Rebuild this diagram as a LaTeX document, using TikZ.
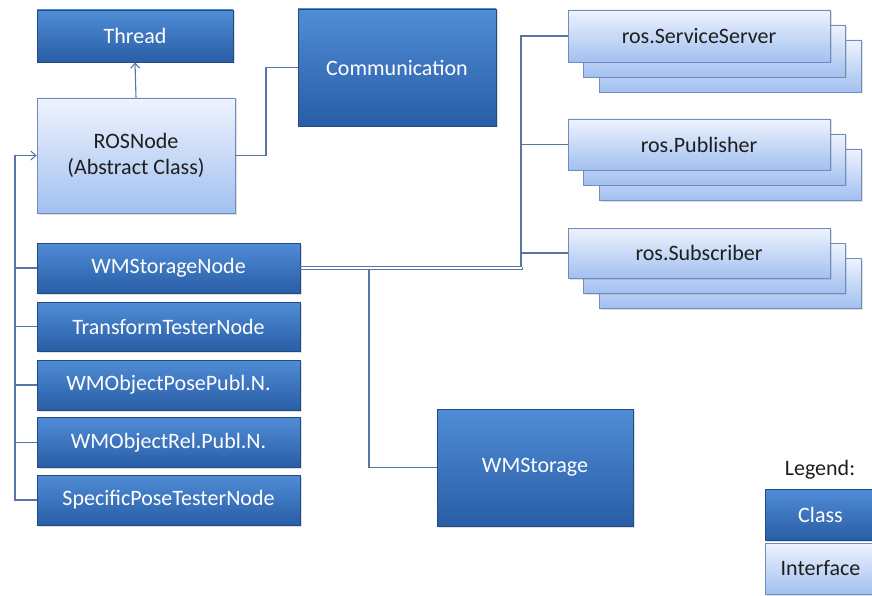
\documentclass[tikz,border=0pt]{standalone}
\usepackage{fontspec}
\setmainfont{Carlito}
\usetikzlibrary{arrows.meta,shadows}
\definecolor{clsTop}{RGB}{80,140,214}
\definecolor{clsBot}{RGB}{40,94,166}
\definecolor{clsLine}{RGB}{36,74,132}
\definecolor{ifTop}{RGB}{238,243,253}
\definecolor{ifBot}{RGB}{162,192,240}
\definecolor{ifLine}{RGB}{112,140,188}
\definecolor{connCol}{RGB}{88,118,162}
\definecolor{txtDark}{RGB}{30,30,30}
\tikzset{
  base/.style={rectangle, inner sep=2pt, align=center, font=\fontsize{22}{26}\selectfont,
    drop shadow={opacity=0.25, shadow xshift=1.5pt, shadow yshift=-1.5pt}},
  clsbox/.style={base, draw=clsLine, line width=0.8pt, top color=clsTop, bottom color=clsBot, text=white},
  ifbox/.style={base, draw=ifLine, line width=0.8pt, top color=ifTop, bottom color=ifBot, text=txtDark},
  conn/.style={draw=connCol, line width=1.1pt},
  arr/.style={conn, -{Straight Barb[length=5pt,width=9pt]}},
}
\begin{document}
\begin{tikzpicture}[x=1pt,y=-1pt]
\useasboundingbox (0,0) rectangle (872,596);
\fill[white] (0,0) rectangle (872,596);

% left column
\node[clsbox, minimum width=196pt, minimum height=52pt] (thread) at (135,36) {Thread};
\node[ifbox, minimum width=198pt, minimum height=115pt] (rosnode) at (136,155.5) {ROSNode\\(Abstract Class)};
\node[clsbox, minimum width=198pt, minimum height=117pt] (comm) at (397,67.5) {Communication};

\node[clsbox, minimum width=263pt, minimum height=50pt] (wmsn) at (168.5,268) {WMStorageNode};
\node[clsbox, minimum width=263pt, minimum height=49pt] (ttn) at (168.5,326.5) {TransformTesterNode};
\node[clsbox, minimum width=263pt, minimum height=50pt] (wmopp) at (168.5,385) {WMObjectPosePubl.N.};
\node[clsbox, minimum width=263pt, minimum height=50pt] (wmorp) at (168.5,442.5) {WMObjectRel.Publ.N.};
\node[clsbox, minimum width=263pt, minimum height=50pt] (sptn) at (168.5,500) {SpecificPoseTesterNode};

\node[clsbox, minimum width=196pt, minimum height=117pt] (wmstorage) at (535,467.5) {WMStorage};

% stacked interfaces
\node[ifbox, minimum width=262pt, minimum height=52pt] (srv3) at (730,66) {};
\node[ifbox, minimum width=262pt, minimum height=52pt] (srv2) at (714.5,51) {};
\node[ifbox, minimum width=262pt, minimum height=52pt] (srv) at (699,36) {ros.ServiceServer};

\node[ifbox, minimum width=262pt, minimum height=51pt] (pub3) at (730,174.5) {};
\node[ifbox, minimum width=262pt, minimum height=51pt] (pub2) at (714.5,159.5) {};
\node[ifbox, minimum width=262pt, minimum height=51pt] (pub) at (699,144.5) {ros.Publisher};

\node[ifbox, minimum width=262pt, minimum height=50pt] (sub3) at (730,283) {};
\node[ifbox, minimum width=262pt, minimum height=50pt] (sub2) at (714.5,268) {};
\node[ifbox, minimum width=262pt, minimum height=50pt] (sub) at (699,253) {ros.Subscriber};

% legend
\node[font=\fontsize{22}{26}\selectfont, text=txtDark] (legtitle) at (820,470) {Legend:};
\node[clsbox, minimum width=111pt, minimum height=51pt] (legcls) at (820.5,514.5) {Class};
\node[ifbox, minimum width=111pt, minimum height=51pt] (legif) at (820.5,568.5) {Interface};

% connectors
\draw[arr] (rosnode.north) -- (thread.south);
\coordinate (cbend) at (266,155.5);
\draw[conn] (rosnode.east) -- (cbend) |- (comm.west);

\coordinate (tb) at (15,500);
\draw[arr] (sptn.west) -- (tb) |- (rosnode.west);
\draw[conn] (wmsn.west) -- (wmsn.west -| tb);
\draw[conn] (ttn.west) -- (ttn.west -| tb);
\draw[conn] (wmopp.west) -- (wmopp.west -| tb);
\draw[conn] (wmorp.west) -- (wmorp.west -| tb);

\coordinate (wa) at (300,266.5);
\coordinate (wb) at (300,269.8);
\coordinate (ja) at (521,266.5);
\coordinate (jb) at (522.5,269.8);
\coordinate (js) at (369,269.8);
\draw[conn] (wa) -- (ja) |- (srv.west);
\draw[conn] (ja) |- (pub.west);
\draw[conn] (ja) |- (sub.west);
\draw[conn] (wb) -- (jb) -- (ja -| jb);
\draw[conn] (js) |- (wmstorage.west);
\end{tikzpicture}
\end{document}
